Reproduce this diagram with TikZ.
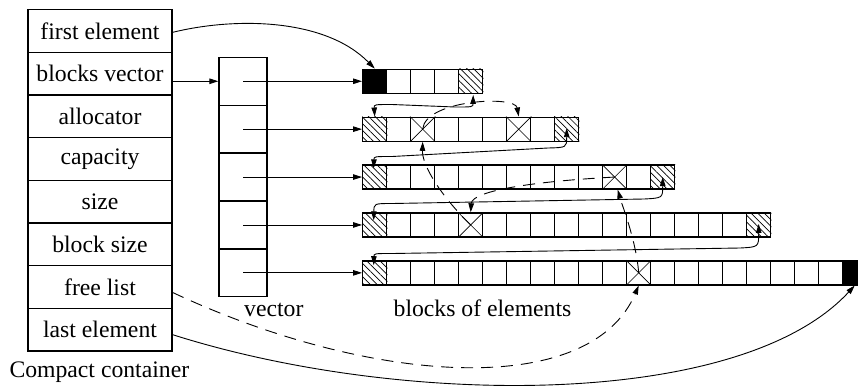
\documentclass[tikz,border=0pt]{standalone}
\usepackage{fontspec}
\setmainfont{Liberation Serif}
\usetikzlibrary{arrows.meta,patterns.meta,calc}

\begin{document}
\begin{tikzpicture}[x=1pt,y=-1pt,
  every node/.style={font=\fontsize{23.7}{28}\selectfont, inner sep=0pt},
  box/.style={draw, line width=1.3pt},
  field/.style={box, minimum width=144pt, minimum height=42.69pt},
  vcell/.style={box, minimum width=48pt, minimum height=47.9pt},
  cell/.style={box, minimum size=24pt},
  hatch/.style={pattern={Lines[angle=-45,distance=4.7pt,line width=0.7pt]}},
  link/.style={line width=0.9pt},
  tip/.style={-{Triangle[length=9pt,width=5.5pt]}},
  twotip/.style={{Triangle[length=9pt,width=5.5pt]}-{Triangle[length=9pt,width=5.5pt]}},
  freedash/.style={dash pattern=on 12pt off 8pt},
  label/.style={inner sep=0pt},
]
\useasboundingbox (0,0) rectangle (858,386);
\clip (0,0) rectangle (858,386);

% the container's fields
\foreach \i/\txt in {1/first element, 2/blocks vector, 3/allocator,
                     4/capacity, 5/size, 6/block size, 7/free list,
                     8/last element}
  \node[field] (f\i) at (100, {9.5+42.69*(\i-0.5)}) {\txt};

% the vector of block pointers
\foreach \i in {1,...,5}
  \node[vcell] (v\i) at (243, {57.3+47.9*(\i-0.5)}) {};

% the blocks of elements
\foreach \r/\n in {1/5, 2/9, 3/13, 4/17, 5/21}
  \foreach \c in {1,...,\n}
    \node[cell] (b\r-\c) at ({362.7+24*(\c-0.5)}, {57.3+47.9*(\r-0.5)}) {};

% first and last element
\fill (b1-1.south west) rectangle (b1-1.north east);
\fill (b5-21.south west) rectangle (b5-21.north east);

% block boundary cells
\foreach \b in {b1-5, b2-1, b2-9, b3-1, b3-13, b4-1, b4-17, b5-1}
  \path[hatch] (\b.south west) rectangle (\b.north east);

% free cells
\foreach \b in {b2-3, b2-7, b3-11, b4-5, b5-12}
  \draw[line width=0.6pt] (\b.north west) -- (\b.south east)
                          (\b.south west) -- (\b.north east);

% labels
\node[label, anchor=base west] (lv) at (244,316.7) {vector};
\node[label, anchor=base] (lb) at (482.5,316.7) {blocks of elements};
\node[label, anchor=base west] (lc) at (9.3,377) {Compact container};

% pointers from the container
\draw[link,tip] (f2.east |- v1.west) -- (v1.west);
\foreach \r in {1,...,5}
  \draw[link,tip] (v\r.center) -- (b\r-1.west);

\draw[link,tip] ($(f1.east)+(0,1.5)$) .. controls (235,17) and (325,18) .. (b1-1.north);
\draw[link,tip] ($(f8.east)+(0,5)$) .. controls (400,407) and (740,410) .. (b5-21.south);

% links between consecutive blocks
\draw[link,twotip] ($(b1-5.south)+(2.5,1)$) .. controls (473,107) .. (455,107)
  -- (392,104.5) .. controls (374,104.5) .. (b2-1.north);
\draw[link,twotip] ($(b2-9.center)+(0,-1)$) .. controls (566.7,147.5) .. (548,148)
  -- (392,156.5) .. controls (374,156.5) .. ($(b3-1.north)+(-1,4)$);
\draw[link,twotip] (b3-13.center) .. controls (662.7,198) .. (644,199)
  -- (392,203.5) .. controls (374,203.5) .. ($(b4-1.north)+(-1,8)$);
\draw[link,twotip] ($(b4-17.center)+(0,-1)$) .. controls (758.7,247) .. (740,248)
  -- (392,253.5) .. controls (374,253.5) .. ($(b5-1.north)+(-1,5)$);

% the free list
\draw[link,freedash,tip] ($(f7.east)+(0,5.5)$) .. controls (370,385) and (590,400) .. (b5-12.south);
\draw[link,freedash,tip] (b5-12.center) .. controls (636,240) and (622,205) .. ($(b3-11.south)+(3,0)$);
\draw[link,freedash,tip] (b3-11.center) .. controls (540,181) and (472,190) .. (b4-5.north);
\draw[link,freedash,tip] (b4-5.center) .. controls (440,195) and (422,165) .. (b2-3.south);
\draw[link,freedash,tip] (b2-3.center) .. controls (425,100) and (515,95) .. (b2-7.north);
\end{tikzpicture}
\end{document}
